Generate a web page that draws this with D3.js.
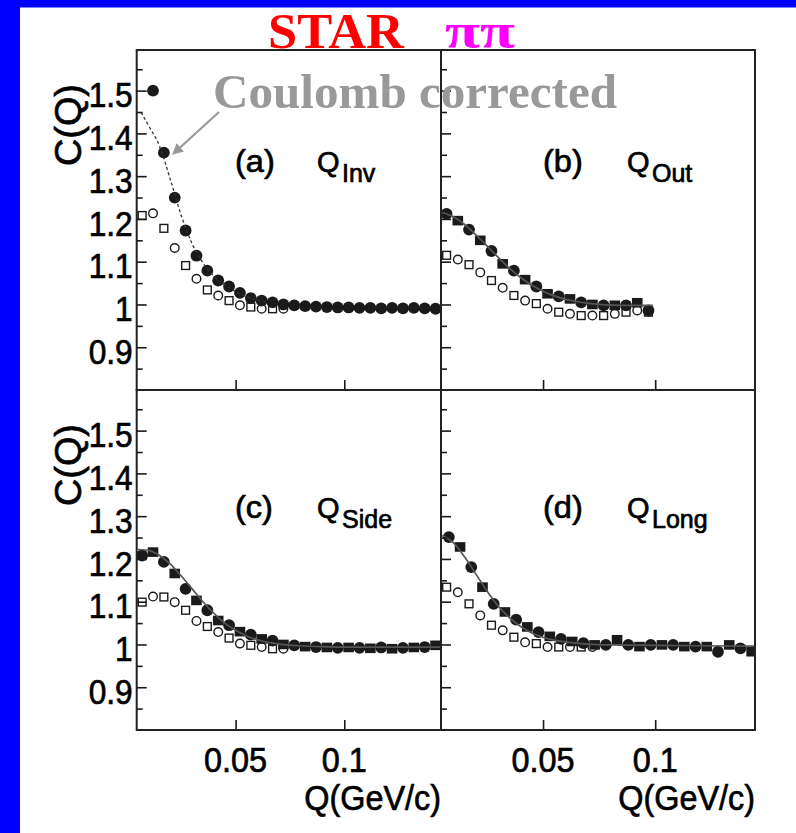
<!DOCTYPE html>
<html><head><meta charset="utf-8">
<script src="https://cdn.jsdelivr.net/npm/d3@7"></script>
<style>html,body{margin:0;padding:0;background:#fff;} svg{display:block}</style>
</head><body>
<svg id="c" width="796" height="833"></svg>
<script>
// ---------------- data ----------------
const yMajorTicks = [0.9, 1.0, 1.1, 1.2, 1.3, 1.4, 1.5];
const yMinorTicks = [0.85, 0.95, 1.05, 1.15, 1.25, 1.35, 1.45, 1.55];
const xTicks = [0.05, 0.1];
const xTickLabels = ["0.05", "0.1"];
const panelLetters = ["(a)", "(b)", "(c)", "(d)"];
const panelSubs = ["Inv", "Out", "Side", "Long"];

// (a) Q_inv
const qA_filled = [0.012,0.017,0.022,0.027,0.032,0.037,0.042,0.047,0.052,0.057,0.062,0.067,0.072,0.077,0.082,0.087,0.092,0.097,0.102,0.107,0.112,0.117,0.122,0.127,0.132,0.137,0.142];
const cA_filled = [1.500,1.355,1.250,1.173,1.114,1.079,1.056,1.042,1.027,1.015,1.009,1.005,1.000,0.998,0.996,0.995,0.994,0.993,0.993,0.992,0.992,0.991,0.992,0.991,0.992,0.991,0.990];
const qA_open = [0.007,0.012,0.017,0.022,0.027,0.032,0.037,0.042,0.047,0.052,0.057,0.062,0.067,0.072];
const cA_open = [1.208,1.213,1.178,1.132,1.091,1.060,1.034,1.021,1.009,0.998,0.994,0.990,0.990,0.990];
const qA_fit = [0.0065,0.010,0.015,0.020,0.025,0.030,0.035,0.040,0.045,0.050,0.055,0.060,0.065];
const cA_fit = [1.449,1.418,1.370,1.292,1.208,1.142,1.097,1.066,1.046,1.030,1.018,1.010,1.005];

// (b) Q_out
const qB_filled = [0.007,0.012,0.017,0.022,0.027,0.032,0.037,0.042,0.047,0.052,0.057,0.062,0.067,0.072,0.077,0.082,0.087,0.092,0.097];
const cB_filled = [1.212,1.196,1.175,1.150,1.125,1.095,1.079,1.058,1.042,1.025,1.019,1.013,1.005,1.000,0.998,0.998,0.998,1.004,0.986];
const qB_open = [0.007,0.012,0.017,0.022,0.027,0.032,0.037,0.042,0.047,0.052,0.057,0.062,0.067,0.072,0.077,0.082,0.087,0.092,0.097];
const cB_open = [1.115,1.105,1.093,1.075,1.056,1.039,1.021,1.009,1.002,0.990,0.982,0.978,0.974,0.974,0.974,0.978,0.982,0.986,0.982];
const qB_fit = [0.005,0.010,0.015,0.020,0.025,0.030,0.035,0.040,0.045,0.050,0.055,0.060,0.065,0.070,0.075,0.080,0.085,0.090,0.095,0.099];
const cB_fit = [1.215,1.205,1.187,1.163,1.137,1.110,1.085,1.063,1.045,1.031,1.020,1.012,1.007,1.003,1.000,0.999,0.998,0.998,0.998,0.998];

// (c) Q_side
const qC_filled = [0.007,0.012,0.017,0.022,0.027,0.032,0.037,0.042,0.047,0.052,0.057,0.062,0.067,0.072,0.077,0.082,0.087,0.092,0.097,0.102,0.107,0.112,0.117,0.122,0.127,0.132,0.137,0.142];
const cC_filled = [1.208,1.216,1.193,1.166,1.130,1.103,1.080,1.056,1.045,1.030,1.023,1.013,1.009,1.000,0.998,0.995,0.994,0.993,0.992,0.993,0.992,0.991,0.993,0.990,0.992,0.993,0.994,0.998];
const qC_open = [0.007,0.012,0.017,0.022,0.027,0.032,0.037,0.042,0.047,0.052,0.057,0.062,0.067,0.072];
const cC_open = [1.099,1.112,1.111,1.099,1.080,1.055,1.042,1.029,1.015,1.002,0.998,0.994,0.990,0.990];
const qC_fit = [0.005,0.010,0.015,0.020,0.025,0.030,0.035,0.040,0.045,0.050,0.055,0.060,0.065,0.070,0.080,0.090,0.100,0.120,0.1445];
const cC_fit = [1.222,1.220,1.208,1.188,1.160,1.130,1.100,1.073,1.050,1.033,1.020,1.011,1.005,1.001,0.997,0.995,0.994,0.994,0.994];

// (d) Q_long
const qD_filled = [0.008,0.013,0.018,0.023,0.028,0.033,0.038,0.043,0.048,0.053,0.058,0.063,0.068,0.073,0.078,0.083,0.088,0.093,0.098,0.103,0.108,0.113,0.118,0.123,0.128,0.133,0.138,0.143];
const cD_filled = [1.251,1.228,1.181,1.134,1.095,1.076,1.058,1.041,1.029,1.019,1.013,1.007,1.003,0.999,0.999,1.011,0.999,0.995,0.999,0.999,0.999,0.995,0.995,0.995,0.983,0.999,0.991,0.983];
const qD_open = [0.007,0.012,0.017,0.022,0.027,0.032,0.037,0.042,0.047,0.052,0.057,0.062,0.067,0.072];
const cD_open = [1.134,1.122,1.095,1.068,1.045,1.033,1.017,1.005,1.002,0.994,0.994,0.994,0.994,0.994];
const qD_fit = [0.005,0.010,0.015,0.020,0.025,0.030,0.035,0.040,0.045,0.050,0.055,0.060,0.070,0.080,0.100,0.120,0.1445];
const cD_fit = [1.255,1.238,1.205,1.165,1.125,1.090,1.063,1.042,1.027,1.017,1.010,1.006,1.001,0.999,0.998,0.997,0.996];

// ---------------- layout ----------------
const W = 796, H = 833;
const xDomain = [0.0045, 0.1445];
const yDomain = [0.8, 1.595];
const cols = [[136.7, 441], [441, 755]];
const rows = [[50, 390], [390, 730]];
const SANS = "'Liberation Sans', Arial, Helvetica, sans-serif";
const SERIF = "'Liberation Serif', 'Times New Roman', Times, serif";
const INK = "#1a1a1a";

const panels = [
  {col:0,row:0,qf:qA_filled,cf:cA_filled,qo:qA_open,co:cA_open,qfit:qA_fit,cfit:cA_fit,dashed:true},
  {col:1,row:0,qf:qB_filled,cf:cB_filled,qo:qB_open,co:cB_open,qfit:qB_fit,cfit:cB_fit,dashed:false},
  {col:0,row:1,qf:qC_filled,cf:cC_filled,qo:qC_open,co:cC_open,qfit:qC_fit,cfit:cC_fit,dashed:false},
  {col:1,row:1,qf:qD_filled,cf:cD_filled,qo:qD_open,co:cD_open,qfit:qD_fit,cfit:cD_fit,dashed:false}
];

const svg = d3.select('#c');
svg.append('rect').attr('width', W).attr('height', H).attr('fill', '#fff');
// blue slide border
svg.append('rect').attr('x',0).attr('y',0).attr('width',W).attr('height',7.5).attr('fill','#0000ff');
svg.append('rect').attr('x',0).attr('y',0).attr('width',20).attr('height',H).attr('fill','#0000ff');

const defs = svg.append('defs');

// condensed sans text helper
function ctext(parent, x, y, str, size, sx, anchor, rot) {
  const t = parent.append('text')
    .attr('transform', `translate(${x},${y})` + (rot ? ` rotate(${rot})` : '') + ` scale(${sx},1)`)
    .attr('text-anchor', anchor || 'start')
    .attr('font-family', SANS).attr('font-size', size).attr('fill', '#000')
    .attr('stroke', '#000').attr('stroke-width', 0.7)
    .text(str);
  return t;
}

panels.forEach((p, i) => {
  const [x0, x1] = cols[p.col];
  const [y0, y1] = rows[p.row];
  const x = d3.scaleLinear().domain(xDomain).range([x0, x1]);
  const y = d3.scaleLinear().domain(yDomain).range([y1, y0]);

  const clipId = 'clip' + i;
  defs.append('clipPath').attr('id', clipId)
    .append('rect').attr('x', x0).attr('y', y0).attr('width', x1 - x0).attr('height', y1 - y0);

  const g = svg.append('g');
  const plot = g.append('g').attr('clip-path', `url(#${clipId})`);

  // open markers (uncorrected)
  const openData = p.qo.map((q, k) => ({q, c: p.co[k], k}));
  openData.forEach(d => {
    if (d.k % 2 === 0) {
      plot.append('rect').attr('x', x(d.q) - 3.9).attr('y', y(d.c) - 3.9)
        .attr('width', 7.8).attr('height', 7.8)
        .attr('fill', 'none').attr('stroke', INK).attr('stroke-width', 1.4);
    } else {
      plot.append('circle').attr('cx', x(d.q)).attr('cy', y(d.c)).attr('r', 4.3)
        .attr('fill', 'none').attr('stroke', INK).attr('stroke-width', 1.4);
    }
  });

  // filled markers (Coulomb corrected)
  const filledData = p.qf.map((q, k) => ({q, c: p.cf[k], k}));
  filledData.forEach(d => {
    if (d.k % 2 === 1 && i !== 0) {
      plot.append('rect').attr('x', x(d.q) - 5.3).attr('y', y(d.c) - 4.8)
        .attr('width', 10.6).attr('height', 9.6).attr('fill', INK);
    } else {
      plot.append('circle').attr('cx', x(d.q)).attr('cy', y(d.c)).attr('r', 5.9).attr('fill', INK);
    }
  });

  // fit curve
  const fitData = p.qfit.map((q, k) => ({q, c: p.cfit[k]}));
  const line = d3.line().x(d => x(d.q)).y(d => y(d.c)).curve(d3.curveMonotoneX);
  plot.append('path').datum(fitData).attr('d', line)
    .attr('fill', 'none')
    .attr('stroke', p.dashed ? '#333' : '#555')
    .attr('stroke-width', p.dashed ? 1.3 : 1.7)
    .attr('stroke-dasharray', p.dashed ? '3,2.5' : null);

  // y ticks (pointing inward from the left edge)
  const yAxisMajor = d3.axisLeft(y).tickValues(yMajorTicks).tickSizeInner(-10).tickSizeOuter(0)
    .tickFormat(p.col === 0 ? (d => String(+d.toFixed(2))) : '').tickPadding(4);
  const ya = g.append('g').attr('transform', `translate(${x0},0)`).call(yAxisMajor);
  ya.select('.domain').remove();
  ya.selectAll('line').attr('stroke', INK).attr('stroke-width', 1.6);
  ya.selectAll('text').attr('font-family', SANS).attr('font-size', 36).attr('fill', '#000')
    .attr('stroke', '#000').attr('stroke-width', 0.7)
    .attr('dy', '0.45em').attr('x', 0).attr('transform', 'translate(-4,0) scale(0.88,1)');
  const yAxisMinor = d3.axisLeft(y).tickValues(yMinorTicks).tickSizeInner(-6).tickSizeOuter(0).tickFormat('');
  const ym = g.append('g').attr('transform', `translate(${x0},0)`).call(yAxisMinor);
  ym.select('.domain').remove();
  ym.selectAll('line').attr('stroke', INK).attr('stroke-width', 1.6);

  // x ticks (pointing upward from the bottom edge)
  const xAxis = d3.axisBottom(x).tickValues(xTicks).tickSizeInner(-10).tickSizeOuter(0).tickFormat('');
  const xa = g.append('g').attr('transform', `translate(0,${y1})`).call(xAxis);
  xa.select('.domain').remove();
  xa.selectAll('line').attr('stroke', INK).attr('stroke-width', 1.6);

  // frame
  g.append('rect').attr('x', x0).attr('y', y0).attr('width', x1 - x0).attr('height', y1 - y0)
    .attr('fill', 'none').attr('stroke', '#222').attr('stroke-width', 2);

  // x tick labels under bottom panels
  if (p.row === 1) {
    xTicks.forEach((t, k) => {
      ctext(svg, x(t), 772, xTickLabels[k], 36, 0.9, 'middle');
    });
    ctext(svg, x1, 810, 'Q(GeV/c)', 36, 0.9, 'end');
  }
  // y axis title
  if (p.col === 0) {
    const cy = (y0 + y1) / 2 - 95;
    ctext(svg, 81, cy, 'C(Q)', 36, 1.05, 'middle', -90);
  }

  // panel label
  const lx = p.col === 0 ? 235 : 543;
  const qx = p.col === 0 ? 317 : 627;
  const ly = p.row === 0 ? 172 : 518;
  ctext(svg, lx, ly, panelLetters[i], 31, 1.05, 'start');
  ctext(svg, qx, ly, 'Q', 29, 1.0, 'start');
  ctext(svg, qx + 25, ly + 10, panelSubs[i], 25, 1.0, 'start');
});

// title
svg.append('text').attr('x', 268).attr('y', 48).attr('font-family', SERIF).attr('font-weight', 'bold')
  .attr('font-size', 51).attr('fill', '#ff0000').attr('textLength', 136).attr('lengthAdjust', 'spacingAndGlyphs').text('STAR');
svg.append('text').attr('x', 445).attr('y', 48).attr('font-family', SERIF).attr('font-weight', 'bold')
  .attr('font-size', 51).attr('fill', '#ff00ff').attr('textLength', 70).attr('lengthAdjust', 'spacingAndGlyphs').text('ππ');

// annotation
svg.append('text').attr('x', 213).attr('y', 108).attr('font-family', SERIF).attr('font-weight', 'bold')
  .attr('font-size', 49).attr('fill', '#999999').attr('textLength', 404).attr('lengthAdjust', 'spacingAndGlyphs')
  .text('Coulomb corrected');
defs.append('marker').attr('id', 'arr').attr('viewBox', '0 0 10 10').attr('refX', 9).attr('refY', 5)
  .attr('markerWidth', 5).attr('markerHeight', 5).attr('orient', 'auto')
  .append('path').attr('d', 'M0,0 L10,5 L0,10 z').attr('fill', '#999999');
svg.append('line').attr('x1', 219).attr('y1', 112).attr('x2', 173).attr('y2', 154)
  .attr('stroke', '#999999').attr('stroke-width', 2.2).attr('marker-end', 'url(#arr)');
</script>
</body></html>
